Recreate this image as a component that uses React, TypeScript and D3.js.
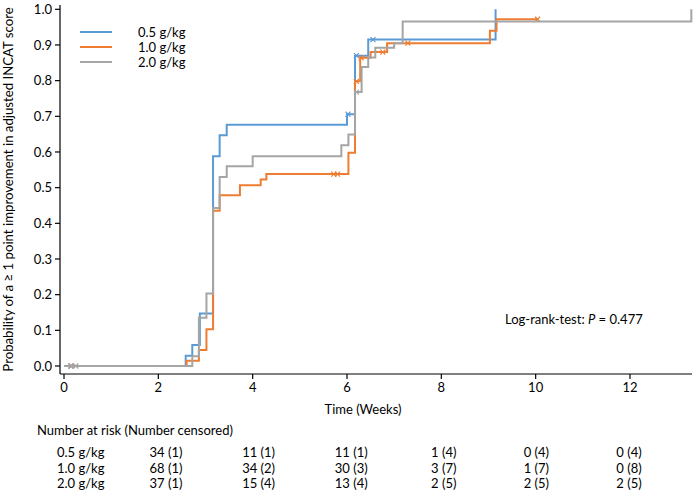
import * as d3 from "d3";

// groups and styles
const groups = ["0.5 g/kg", "1.0 g/kg", "2.0 g/kg"];
const colors = ["#5B9BD5", "#ED7D31", "#A5A5A5"];

// step curves (time in weeks, cumulative probability)
const blueTimes = [0, 2.58, 2.72, 2.88, 3.16, 3.3, 3.45, 6.0, 6.17, 6.45, 9.15];
const blueProb = [0, 0.029, 0.059, 0.147, 0.588, 0.647, 0.676, 0.706, 0.87, 0.915, 1.0];

const orangeTimes = [0, 2.6, 2.86, 3.02, 3.16, 3.3, 3.73, 4.17, 4.29, 6.03, 6.17, 6.28, 6.5, 6.85, 9.03, 9.17, 10.04];
const orangeProb = [0, 0.015, 0.045, 0.103, 0.435, 0.479, 0.507, 0.523, 0.538, 0.598, 0.798, 0.864, 0.88, 0.905, 0.94, 0.972, 0.972];

const grayTimes = [0, 2.72, 2.86, 3.02, 3.16, 3.3, 3.45, 4.0, 5.88, 6.03, 6.17, 6.31, 6.45, 6.6, 7.0, 7.18, 13.3];
const grayProb = [0, 0.027, 0.135, 0.203, 0.443, 0.53, 0.56, 0.588, 0.619, 0.649, 0.768, 0.838, 0.865, 0.892, 0.905, 0.966, 1.0];

// censoring marks
const blueCensorT = [0.15, 6.02, 6.2, 6.55];
const blueCensorP = [0, 0.706, 0.87, 0.915];
const orangeCensorT = [0.15, 5.72, 5.8, 6.2, 6.3, 6.76, 7.29, 10.04];
const orangeCensorP = [0, 0.538, 0.538, 0.798, 0.864, 0.88, 0.905, 0.972];
const grayCensorT = [0.15, 0.25, 6.2];
const grayCensorP = [0, 0, 0.768];

const xTicks = [0, 2, 4, 6, 8, 10, 12];
const yTicks = [0, 0.1, 0.2, 0.3, 0.4, 0.5, 0.6, 0.7, 0.8, 0.9, 1.0];

// risk table
const riskWeeks = [2, 4, 6, 8, 10, 12];
const riskBlue = ["34 (1)", "11 (1)", "11 (1)", "1 (4)", "0 (4)", "0 (4)"];
const riskOrange = ["68 (1)", "34 (2)", "30 (3)", "3 (7)", "1 (7)", "0 (8)"];
const riskGray = ["37 (1)", "15 (4)", "13 (4)", "2 (5)", "2 (5)", "2 (5)"];

const font = "Lato, 'DejaVu Sans', sans-serif";

export default function App() {
  const width = 700, height = 497;
  const x = d3.scaleLinear().domain([0, 12]).range([64, 630]);
  const y = d3.scaleLinear().domain([0, 1]).range([366, 9.3]);
  const col = d3.scaleLinear().domain([2, 12]).range([166, 629]);

  const line = d3.line<[number, number]>()
    .x(d => x(d[0]))
    .y(d => y(d[1]))
    .curve(d3.curveStepAfter);

  const series = [
    { t: blueTimes, p: blueProb, ct: blueCensorT, cp: blueCensorP },
    { t: orangeTimes, p: orangeProb, ct: orangeCensorT, cp: orangeCensorP },
    { t: grayTimes, p: grayProb, ct: grayCensorT, cp: grayCensorP },
  ];
  const risk = [riskBlue, riskOrange, riskGray];

  const axisY = 374;
  const axisX = 60;

  return (
    <svg width={width} height={height} style={{ position: "absolute", left: 0, top: 0, background: "#fff" }} fontFamily={font}>
      {/* y axis */}
      <line x1={axisX} x2={axisX} y1={5} y2={axisY} stroke="#000" strokeWidth={1.2} />
      {yTicks.map(v => (
        <g key={v}>
          <line x1={axisX - 5} x2={axisX} y1={y(v)} y2={y(v)} stroke="#000" strokeWidth={1.2} />
          <text x={axisX - 8} y={y(v)} dy="0.35em" textAnchor="end" fontSize={13}>{d3.format(".1f")(v)}</text>
        </g>
      ))}
      {/* x axis */}
      <line x1={axisX} x2={692} y1={axisY} y2={axisY} stroke="#000" strokeWidth={1.2} />
      {xTicks.map(v => (
        <g key={v}>
          <line x1={x(v)} x2={x(v)} y1={axisY} y2={axisY + 5} stroke="#000" strokeWidth={1.2} />
          <text x={x(v)} y={392} textAnchor="middle" fontSize={13}>{v}</text>
        </g>
      ))}
      <text x={363} y={414} textAnchor="middle" fontSize={13}>Time (Weeks)</text>
      <text transform={`translate(13,${(5 + axisY) / 2}) rotate(-90)`} textAnchor="middle" fontSize={13.2}>
        Probability of a ≥ 1 point improvement in adjusted INCAT score
      </text>

      {/* curves */}
      {series.map((s, i) => (
        <g key={i}>
          <path d={line(s.t.map((t, j) => [t, s.p[j]] as [number, number])) || ""} fill="none" stroke={colors[i]} strokeWidth={2} />
          {s.ct.map((t, j) => (
            <path key={j}
              d={`M${x(t) - 2.5},${y(s.cp[j]) - 2.5}L${x(t) + 2.5},${y(s.cp[j]) + 2.5}M${x(t) - 2.5},${y(s.cp[j]) + 2.5}L${x(t) + 2.5},${y(s.cp[j]) - 2.5}`}
              stroke={colors[i]} strokeWidth={1.2} fill="none" />
          ))}
        </g>
      ))}

      {/* legend */}
      {groups.map((g, i) => (
        <g key={g} transform={`translate(80,${32 + i * 15})`}>
          <line x1={0} x2={32} y1={0} y2={0} stroke={colors[i]} strokeWidth={2} />
          <text x={58} y={0} dy="0.35em" fontSize={13}>{g}</text>
        </g>
      ))}

      <text x={505} y={324} fontSize={13}>
        Log-rank-test: <tspan fontStyle="italic">P</tspan> = 0.477
      </text>

      {/* risk table */}
      <text x={37} y={435} fontSize={13}>Number at risk (Number censored)</text>
      {groups.map((g, i) => (
        <g key={g} transform={`translate(0,${457 + i * 15.5})`}>
          <text x={57} y={0} fontSize={13}>{g}</text>
          {riskWeeks.map((w, j) => (
            <text key={w} x={col(w)} y={0} textAnchor="middle" fontSize={13}>{risk[i][j]}</text>
          ))}
        </g>
      ))}
    </svg>
  );
}
